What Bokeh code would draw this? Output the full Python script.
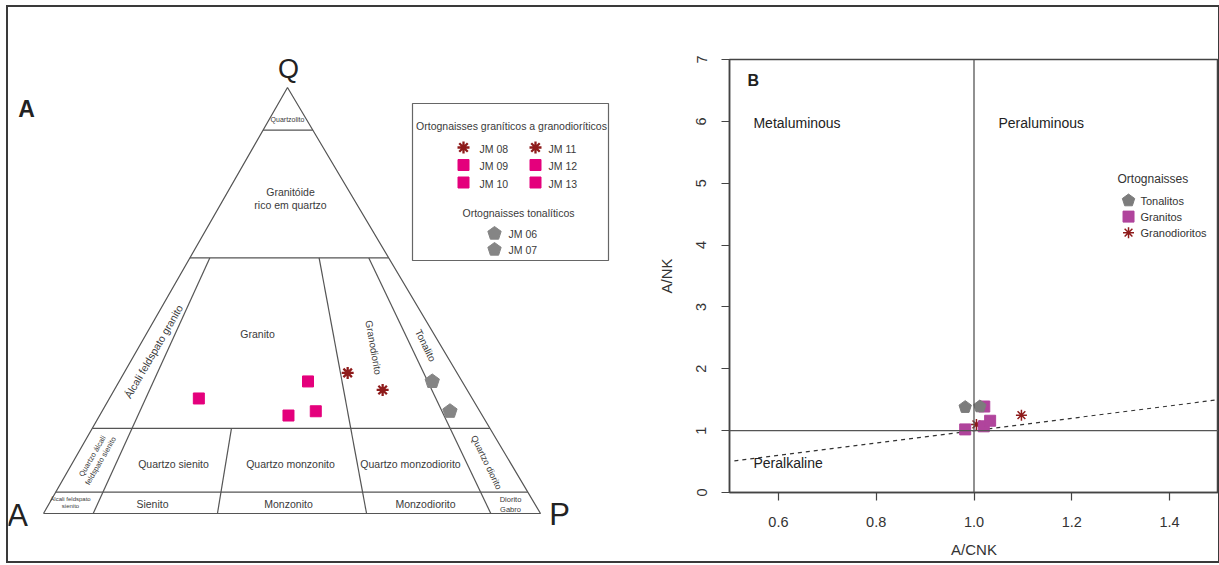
import math
from bokeh.plotting import figure
from bokeh.layouts import row
from bokeh.models import Range1d, FixedTicker, Span, NumeralTickFormatter
from bokeh.core.properties import value
from bokeh.embed import file_html
from bokeh.resources import INLINE

FONT = "Liberation Sans"

# ---------------- data: panel A (QAP modal composition, %) ----------------
gran_ids = ["JM 08", "JM 09", "JM 10", "JM 11", "JM 12", "JM 13"]
gran_kind = ["granodiorito", "granito", "granito", "granodiorito", "granito", "granito"]
gran_Q = [33, 27, 23, 29, 31, 24]
gran_A = [22, 55, 39, 17, 31, 33]
gran_P = [45, 18, 38, 54, 38, 43]

ton_ids = ["JM 06", "JM 07"]
ton_Q = [31, 24]
ton_A = [6, 6]
ton_P = [63, 70]

# Streckeisen QAP boundaries
q_levels = [0.90, 0.60, 0.20, 0.05]          # Q/(Q+A+P)
ratio_lines = [0.10, 0.35, 0.65, 0.90]       # P/(A+P)
ratio_tops = [0.60, 0.20, 0.60, 0.60]

# ---------------- data: panel B (A/CNK vs A/NK) ----------------
ton_acnk = [0.982, 1.012]
ton_ank = [1.38, 1.39]
gra_acnk = [1.021, 0.982, 1.020, 1.033]
gra_ank = [1.39, 1.02, 1.07, 1.16]
grd_acnk = [1.005, 1.097]
grd_ank = [1.10, 1.25]
peralk_x = [0.51, 1.5]
peralk_y = [0.51, 1.5]
x_ticks = [0.6, 0.8, 1.0, 1.2, 1.4]
y_ticks = [0, 1, 2, 3, 4, 5, 6, 7]

# ---------------- colours ----------------
C_LINE = "#555555"
C_TEXT = "#3a3a3a"
C_MAG_A = "#E4007C"
C_MAG_B = "#B0449C"
C_RED = "#8E1B1B"
C_GRAY = "#858585"


def pentagons(p, xs_, ys_, r, kx, ky, color):
    """Regular pentagons (vertex up) of screen radius r; kx, ky = px per data unit."""
    px, py = [], []
    for x, y in zip(xs_, ys_):
        px.append([x + r * math.sin(2 * math.pi * j / 5) / kx for j in range(5)])
        py.append([y + r * math.cos(2 * math.pi * j / 5) / ky for j in range(5)])
    p.patches(px, py, fill_color=color, line_color=color, line_width=1)


# ================= panel A: QAP ternary =================
VA = (43, 513)
VP = (540, 513)
VQ = (287, 87)


def tern(q, r):
    xl = VA[0] + (VQ[0] - VA[0]) * q
    xr = VP[0] + (VQ[0] - VP[0]) * q
    return xl + r * (xr - xl), VA[1] + (VQ[1] - VA[1]) * q


def qap(Q, A, P):
    s = Q + A + P
    return tern(Q / s, P / (A + P))


pA = figure(width=630, height=554, x_range=Range1d(8, 638), y_range=Range1d(561, 7),
            min_border=0, toolbar_location=None, output_backend="svg",
            x_axis_type=None, y_axis_type=None, outline_line_color=None)
pA.grid.visible = False

xs, ys = [], []
tri = [tern(0, 0), tern(0, 1), tern(1, 0.5), tern(0, 0)]
xs.append([t[0] for t in tri])
ys.append([t[1] for t in tri])
for q in q_levels:
    a, b = tern(q, 0), tern(q, 1)
    xs.append([a[0], b[0]])
    ys.append([a[1], b[1]])
for r, top in zip(ratio_lines, ratio_tops):
    a, b = tern(top, r), tern(0, r)
    xs.append([a[0], b[0]])
    ys.append([a[1], b[1]])
pA.multi_line(xs, ys, line_color=C_LINE, line_width=1.2)

# field labels: (text, x, y, angle_deg, size)
labels_A = [
    ("Quartzolito", 287, 119, 0, "7px"),
    ("Granitóide\nrico em quartzo", 290, 198, 0, "10.5px"),
    ("Granito", 257, 333, 0, "10.5px"),
    ("Álcali feldspato granito", 153, 351, 60, "10.5px"),
    ("Granodiorito", 373, 347, -80, "10px"),
    ("Tonalito", 425, 345, -64, "10px"),
    ("Quartzo álcali\nfeldspato sienito", 96, 458, 60, "7.5px"),
    ("Quartzo sienito", 173, 463, 0, "10.5px"),
    ("Quartzo monzonito", 290, 463, 0, "10.5px"),
    ("Quartzo monzodiorito", 410, 463, 0, "10.5px"),
    ("Quartzo diorito", 486, 462, -64, "9px"),
    ("Álcali feldspato\nsienito", 70, 502, 0, "6px"),
    ("Sienito", 152, 503, 0, "10.5px"),
    ("Monzonito", 288, 503, 0, "10.5px"),
    ("Monzodiorito", 425, 503, 0, "10.5px"),
    ("Diorito\nGabro", 510, 504, 0, "7.5px"),
]
for txt, x, y, ang, sz in labels_A:
    pA.text(x=[x], y=[y], text=[txt], angle=math.radians(ang),
            text_font=value(FONT), text_font_size=sz, text_color=C_TEXT,
            text_align="center", text_baseline="middle", text_line_height=1.05)

# vertex letters and panel letter
pA.text(x=[288], y=[68], text=["Q"], text_font=value(FONT), text_font_size="27px",
        text_color="#222222", text_align="center", text_baseline="middle")
pA.text(x=[17, 559], y=[515, 514], text=["A", "P"], text_font=value(FONT), text_font_size="31px",
        text_color="#222222", text_align="center", text_baseline="middle")
pA.text(x=[26], y=[108], text=["A"], text_font=value(FONT), text_font_size="23px",
        text_font_style="bold", text_color="#222222", text_align="center", text_baseline="middle")

# sample points
g_pts = [qap(q, a, pp) for q, a, pp in zip(gran_Q, gran_A, gran_P)]
sq_x = [pt[0] for pt, k in zip(g_pts, gran_kind) if k == "granito"]
sq_y = [pt[1] for pt, k in zip(g_pts, gran_kind) if k == "granito"]
st_x = [pt[0] for pt, k in zip(g_pts, gran_kind) if k == "granodiorito"]
st_y = [pt[1] for pt, k in zip(g_pts, gran_kind) if k == "granodiorito"]
pA.scatter(sq_x, sq_y, marker="square", size=11, fill_color=C_MAG_A, line_color=C_MAG_A)
pA.scatter(st_x, st_y, marker="asterisk", size=12, line_color=C_RED, line_width=2.3)
t_pts = [qap(q, a, pp) for q, a, pp in zip(ton_Q, ton_A, ton_P)]
pentagons(pA, [t[0] for t in t_pts], [t[1] for t in t_pts], 7.5, 1, -1, C_GRAY)

# legend box of panel A
pA.quad(left=[412], right=[608], top=[103], bottom=[260], fill_color=None,
        line_color="#666666", line_width=1.2)
pA.text(x=[511], y=[125], text=["Ortognaisses graníticos a granodioríticos"],
        text_font=value(FONT), text_font_size="10.5px", text_color=C_TEXT,
        text_align="center", text_baseline="middle")
lg_mx = [463 + 72 * (i // 3) for i in range(len(gran_ids))]
lg_lx = [479 + 69 * (i // 3) for i in range(len(gran_ids))]
lg_y = [147 + 17.5 * (i % 3) for i in range(len(gran_ids))]
pA.scatter([m for m, k in zip(lg_mx, gran_kind) if k == "granito"],
           [m for m, k in zip(lg_y, gran_kind) if k == "granito"],
           marker="square", size=11, fill_color=C_MAG_A, line_color=C_MAG_A)
pA.scatter([m for m, k in zip(lg_mx, gran_kind) if k == "granodiorito"],
           [m for m, k in zip(lg_y, gran_kind) if k == "granodiorito"],
           marker="asterisk", size=12, line_color=C_RED, line_width=2.3)
pA.text(x=lg_lx, y=[v + 1 for v in lg_y], text=gran_ids, text_font=value(FONT),
        text_font_size="10.5px", text_color=C_TEXT, text_align="left", text_baseline="middle")
pA.text(x=[518], y=[212], text=["Ortognaisses tonalíticos"], text_font=value(FONT),
        text_font_size="10.5px", text_color=C_TEXT, text_align="center", text_baseline="middle")
tl_y = [233 + 16 * i for i in range(len(ton_ids))]
pentagons(pA, [494] * len(ton_ids), tl_y, 7, 1, -1, C_GRAY)
pA.text(x=[508] * len(ton_ids), y=tl_y, text=ton_ids, text_font=value(FONT),
        text_font_size="10.5px", text_color=C_TEXT, text_align="left", text_baseline="middle")

# ================= panel B: Shand diagram =================
B_W, B_H = 580, 554
B_ML, B_MR, B_MT, B_MB = 91, 0, 52, 69
pB = figure(width=B_W, height=B_H, x_range=Range1d(0.5, 1.5), y_range=Range1d(0, 7),
            min_border_left=B_ML, min_border_right=B_MR, min_border_top=B_MT, min_border_bottom=B_MB,
            toolbar_location=None, output_backend="svg",
            x_axis_label="A/CNK", y_axis_label="A/NK")
for p in (pA, pB):
    try:
        p.frame_align = False
    except Exception:
        pass
pB.grid.visible = False
pB.outline_line_color = "#444444"
pB.outline_line_width = 1.5
pB.outline_line_alpha = 1.0
pB.xaxis.ticker = FixedTicker(ticks=x_ticks)
pB.xaxis.formatter = NumeralTickFormatter(format="0.0")
pB.yaxis.ticker = FixedTicker(ticks=y_ticks)
pB.yaxis.major_label_orientation = "vertical"
for ax in (pB.xaxis[0], pB.yaxis[0]):
    ax.axis_line_color = "#444444"
    ax.axis_line_width = 1.5
    ax.major_tick_line_color = "#444444"
    ax.major_tick_line_width = 1.2
    ax.major_tick_out = 8
    ax.major_tick_in = 0
    ax.minor_tick_line_color = None
    ax.major_label_text_font = FONT
    ax.major_label_text_font_size = "14.5px"
    ax.major_label_text_color = "#333333"
    ax.axis_label_text_font = FONT
    ax.axis_label_text_font_size = "15px"
    ax.axis_label_text_font_style = "normal"
    ax.axis_label_text_color = "#333333"
pB.xaxis.major_label_standoff = 16
pB.xaxis.axis_label_standoff = 11
pB.yaxis.major_label_standoff = 15
pB.yaxis.axis_label_standoff = 19

kx = (B_W - B_ML - B_MR) / 1.0
ky = (B_H - B_MT - B_MB) / 7.0

pB.add_layout(Span(location=1.0, dimension="height", line_color="#555555", line_width=1.3))
pB.add_layout(Span(location=1.0, dimension="width", line_color="#555555", line_width=1.3))
pB.line(peralk_x, peralk_y, line_color="#333333", line_width=1.2, line_dash="4 4")

pB.scatter(grd_acnk, grd_ank, marker="asterisk", size=11, line_color=C_RED, line_width=1.5)
pB.scatter(gra_acnk, gra_ank, marker="square", size=11, fill_color=C_MAG_B, line_color=C_MAG_B)
pentagons(pB, ton_acnk, ton_ank, 6.5, kx, ky, "#7c7c7c")

pB.text(x=[0.537], y=[6.66], text=["B"], text_font=value(FONT), text_font_size="16px",
        text_font_style="bold", text_color="#222222", text_align="left", text_baseline="middle")
pB.text(x=[0.549, 1.05, 0.549], y=[5.98, 5.98, 0.47], text=["Metaluminous", "Peraluminous", "Peralkaline"],
        text_font=value(FONT), text_font_size="14px", text_color="#222222",
        text_align="left", text_baseline="middle")

# legend of panel B
pB.text(x=[1.2935], y=[5.07], text=["Ortognaisses"], text_font=value(FONT), text_font_size="12px",
        text_color="#333333", text_align="left", text_baseline="middle")
leg_labels = ["Tonalitos", "Granitos", "Granodioritos"]
leg_y = [4.72, 4.46, 4.20]
pentagons(pB, [1.316], [leg_y[0]], 6.5, kx, ky, "#7c7c7c")
pB.scatter([1.316], [leg_y[1]], marker="square", size=11, fill_color=C_MAG_B, line_color=C_MAG_B)
pB.scatter([1.316], [leg_y[2]], marker="asterisk", size=11, line_color=C_RED, line_width=1.5)
pB.text(x=[1.3405] * 3, y=leg_y, text=leg_labels, text_font=value(FONT), text_font_size="11px",
        text_color="#333333", text_align="left", text_baseline="middle")

layout = row(pA, pB, styles={"border": "2px solid #3a3a3a", "margin-left": "6px", "margin-top": "5px"})

open("out.html", "w").write(file_html(layout, INLINE))
